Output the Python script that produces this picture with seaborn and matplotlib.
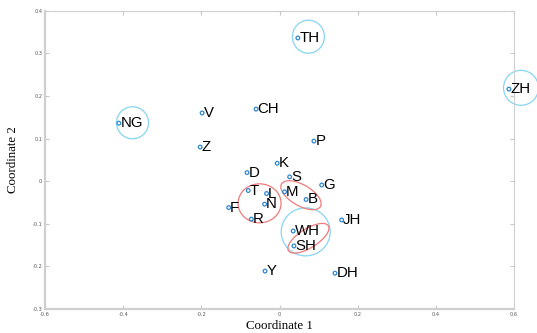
import matplotlib
matplotlib.use("Agg")

import matplotlib.pyplot as plt
import matplotlib.transforms as mtransforms
import pandas as pd
import seaborn as sns
from matplotlib.patches import Ellipse
from matplotlib.ticker import FuncFormatter

# ── Data ──────────────────────────────────────────────────────────────────────
labels = ["TH", "ZH", "NG", "V", "CH", "Z", "P", "K", "D", "S", "G", "T",
          "M", "L", "N", "B", "F", "R", "JH", "WH", "SH", "Y", "DH"]
coord1 = [0.047, 0.587, -0.411, -0.198, -0.060, -0.203, 0.088, -0.006, -0.083,
          0.026, 0.108, -0.080, 0.013, -0.033, -0.038, 0.068, -0.130, -0.072,
          0.159, 0.035, 0.037, -0.037, 0.142]
coord2 = [0.336, 0.216, 0.136, 0.160, 0.169, 0.080, 0.094, 0.042, 0.020,
          0.010, -0.009, -0.022, -0.025, -0.029, -0.054, -0.043, -0.062, -0.089,
          -0.091, -0.117, -0.152, -0.211, -0.216]

# group outlines: centre (data), width/height in pixels, angle in degrees
blue_centres = [(0.074, 0.339), (-0.376, 0.137), (0.618, 0.219), (0.067, -0.119)]
blue_sizes = [(32, 33), (32, 32), (35, 35), (49, 48)]
red_centres = [(-0.051, -0.052), (0.055, -0.033), (0.074, -0.134)]
red_sizes = [(43, 39, 0), (45, 21, -30), (47, 19, 32)]

df = pd.DataFrame({"label": labels, "c1": coord1, "c2": coord2})

sns.set_theme(style="white")
plt.rcParams["axes.unicode_minus"] = False

fig = plt.figure(figsize=(5.37, 3.33), dpi=100)
ax = fig.add_axes([45 / 537, 24 / 333, 469 / 537, 298.3 / 333])

sns.scatterplot(data=df, x="c1", y="c2", ax=ax, marker="o", s=7,
                facecolor="none", edgecolor="#2f86cf", linewidth=0.9, zorder=3)

for lab, x, y in zip(labels, coord1, coord2):
    ax.annotate(lab, (x, y), xytext=(1.0, 0), textcoords="offset points",
                ha="left", va="center", fontsize=10.8, color="black",
                family="Liberation Sans")


def outline(cx, cy, w, h, angle, color):
    tr = fig.dpi_scale_trans + mtransforms.ScaledTranslation(cx, cy, ax.transData)
    e = Ellipse((0, 0), w / 100, h / 100, angle=angle, transform=tr,
                fill=False, edgecolor=color, linewidth=0.9, clip_on=False)
    ax.add_patch(e)


for (cx, cy), (w, h) in zip(blue_centres, blue_sizes):
    outline(cx, cy, w, h, 0, "#86d5f2")
for (cx, cy), (w, h, a) in zip(red_centres, red_sizes):
    outline(cx, cy, w, h, a, "#f07a7a")

ax.set_xlim(-0.6, 0.6)
ax.set_ylim(-0.3, 0.4)
ax.set_xticks([-0.6, -0.4, -0.2, 0, 0.2, 0.4, 0.6])
ax.set_yticks([-0.3, -0.2, -0.1, 0, 0.1, 0.2, 0.3, 0.4])
fmt = FuncFormatter(lambda v, p: f"{v:g}" if abs(v) > 1e-9 else "0")
ax.xaxis.set_major_formatter(fmt)
ax.yaxis.set_major_formatter(fmt)
ax.tick_params(direction="in", length=3, width=0.8, color="#c8c8c8",
               labelsize=3.6, labelcolor="#555555", pad=2,
               top=True, right=True, bottom=True, left=True)
for side, sp in ax.spines.items():
    sp.set_color("#cfcfcf")
    sp.set_linewidth(1.6 if side in ("left", "bottom") else 0.8)

ax.set_xlabel("Coordinate 1", family="Liberation Serif", fontsize=9.3,
              color="black", labelpad=2)
ax.set_ylabel("Coordinate 2", family="Liberation Serif", fontsize=9.3,
              color="black", labelpad=10)

fig.savefig("out.png", dpi=100)
